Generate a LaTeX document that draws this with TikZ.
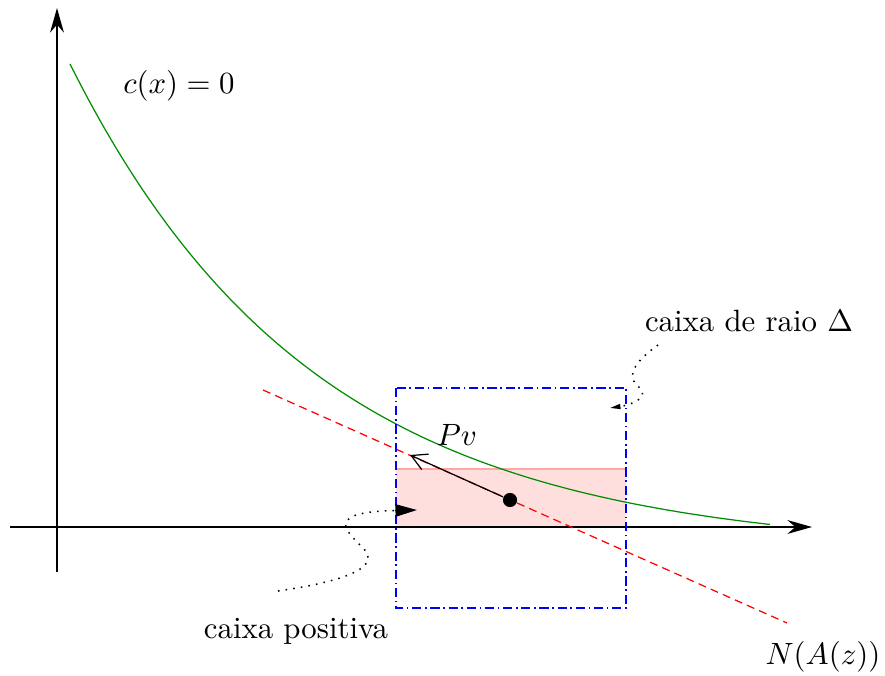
\documentclass[tikz,border=0pt]{standalone}
\usetikzlibrary{arrows.meta}
\begin{document}
\begin{tikzpicture}[x=0.01142cm, y=-0.01142cm,
	axis/.style = {line width=0.5pt, -{Stealth[length=8pt, width=4.5pt]}},
	leader/.style = {dotted, line width=0.5pt},
	boxraio/.style = {blue, line width=0.5pt, dash pattern=on 3pt off 1.2pt on 0.5pt off 1.2pt}]

	\useasboundingbox (0, 0) rectangle (885, 675);

	\coordinate (xini) at (10, 527);
\coordinate (xfim) at (812, 527);
\coordinate (yini) at (57, 572);
\coordinate (yfim) at (57, 8);
\coordinate (nini) at (263, 390);
\coordinate (nfim) at (787, 623);
\coordinate (pvfim) at (410, 455);

			\fill[red!13] (396, 469) rectangle (626, 527);
			\draw[red!35, line width=0.5pt] (396, 469) -- (626, 469);
			\draw[axis] (xini) -- (xfim);
\draw[axis] (yini) -- (yfim);
			\draw[green!55!black, line width=0.4pt] plot[domain=70:770, samples=120] (\x, {527 - (488*exp(-0.0041*(\x - 70)) - 25)});
			\draw[red, dash pattern=on 2.6pt off 1.7pt, line width=0.4pt] (nini) -- (nfim);
			\draw[boxraio] (396, 388) rectangle (626, 608);

			\node[circle, fill, inner sep=0pt, minimum size=4.6pt] (P) at (510, 500) {};
			\draw[line width=0.4pt, -{Straight Barb[length=5pt, width=5.5pt]}] (P) -- (pvfim);

			\node (pv) at (457, 435) {$Pv$};
\node (cx) at (179, 86) {$c(x) = 0$};
\node (naz) at (823, 657) {$N(A(z))$};
\node (raio) at (749, 321) {caixa de raio $\Delta$};
\node (pos) at (296, 631) {caixa positiva};

			\draw[leader, -{Triangle[length=7pt, width=4pt]}] (278, 591) .. controls (340, 582) and (385, 568) .. (362, 547) .. controls (345, 530) and (325, 512) .. (417, 510);
			\draw[leader, -{Triangle[length=3.4pt, width=1.6pt]}] (658, 345) .. controls (640, 358) and (622, 375) .. (640, 388) .. controls (650, 398) and (630, 405) .. (610, 408);

		\end{tikzpicture}
\end{document}
